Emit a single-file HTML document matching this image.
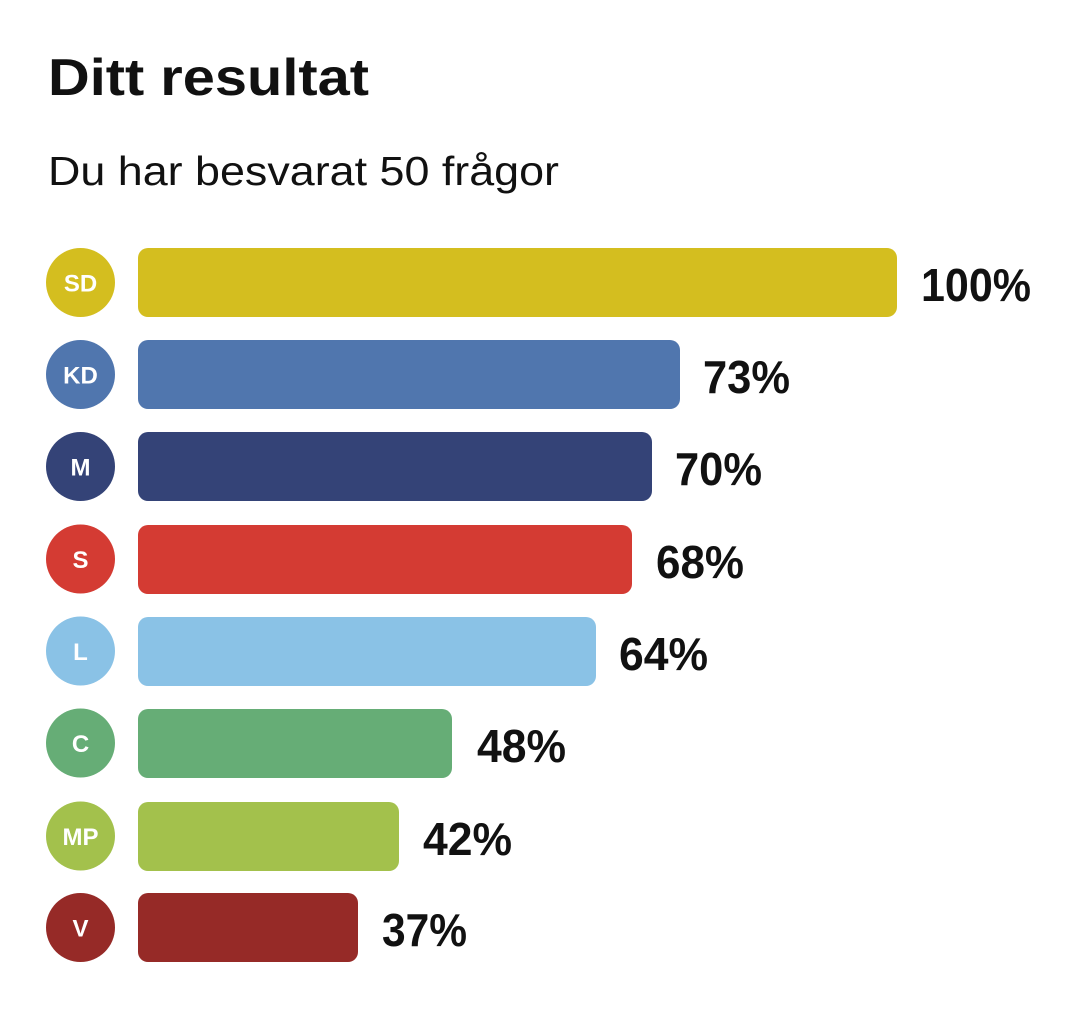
<!DOCTYPE html>
<html>
<head>
<meta charset="utf-8">
<style>
  html,body{margin:0;padding:0;background:#fff;}
  svg{display:block;}
  .t{font-family:"Liberation Sans",Arial,sans-serif;}
</style>
</head>
<body>
<svg width="1080" height="1014" viewBox="0 0 1080 1014" xmlns="http://www.w3.org/2000/svg">
  <rect width="1080" height="1014" fill="#ffffff"/>
  <text class="t" x="48" y="95" font-size="52" font-weight="bold" fill="#111" textLength="321" lengthAdjust="spacingAndGlyphs">Ditt resultat</text>
  <text class="t" x="48" y="185" font-size="41" fill="#111" textLength="511" lengthAdjust="spacingAndGlyphs">Du har besvarat 50 frågor</text>

  <!-- SD -->
  <circle cx="80.5" cy="282.5" r="34.5" fill="#d4be1f"/>
  <text class="t" x="80.5" y="291.5" font-size="24" font-weight="bold" fill="#fff" text-anchor="middle">SD</text>
  <rect x="138" y="248" width="759" height="69" rx="10" fill="#d4be1f"/>
  <text class="t" x="921" y="301" font-size="46" font-weight="bold" fill="#111" textLength="110" lengthAdjust="spacingAndGlyphs">100%</text>

  <!-- KD -->
  <circle cx="80.5" cy="374.5" r="34.5" fill="#5076ae"/>
  <text class="t" x="80.5" y="383.5" font-size="24" font-weight="bold" fill="#fff" text-anchor="middle">KD</text>
  <rect x="138" y="340" width="542" height="69" rx="10" fill="#5076ae"/>
  <text class="t" x="703" y="393" font-size="46" font-weight="bold" fill="#111" textLength="87" lengthAdjust="spacingAndGlyphs">73%</text>

  <!-- M -->
  <circle cx="80.5" cy="466.5" r="34.5" fill="#344377"/>
  <text class="t" x="80.5" y="475.5" font-size="24" font-weight="bold" fill="#fff" text-anchor="middle">M</text>
  <rect x="138" y="432" width="514" height="69" rx="10" fill="#344377"/>
  <text class="t" x="675" y="485" font-size="46" font-weight="bold" fill="#111" textLength="87" lengthAdjust="spacingAndGlyphs">70%</text>

  <!-- S -->
  <circle cx="80.5" cy="559" r="34.5" fill="#d43b33"/>
  <text class="t" x="80.5" y="568" font-size="24" font-weight="bold" fill="#fff" text-anchor="middle">S</text>
  <rect x="138" y="525" width="494" height="69" rx="10" fill="#d43b33"/>
  <text class="t" x="656" y="578" font-size="46" font-weight="bold" fill="#111" textLength="88" lengthAdjust="spacingAndGlyphs">68%</text>

  <!-- L -->
  <circle cx="80.5" cy="651" r="34.5" fill="#8ac2e6"/>
  <text class="t" x="80.5" y="660" font-size="24" font-weight="bold" fill="#fff" text-anchor="middle">L</text>
  <rect x="138" y="617" width="458" height="69" rx="10" fill="#8ac2e6"/>
  <text class="t" x="619" y="670" font-size="46" font-weight="bold" fill="#111" textLength="89" lengthAdjust="spacingAndGlyphs">64%</text>

  <!-- C -->
  <circle cx="80.5" cy="743" r="34.5" fill="#66ad76"/>
  <text class="t" x="80.5" y="752" font-size="24" font-weight="bold" fill="#fff" text-anchor="middle">C</text>
  <rect x="138" y="709" width="314" height="69" rx="10" fill="#66ad76"/>
  <text class="t" x="477" y="762" font-size="46" font-weight="bold" fill="#111" textLength="89" lengthAdjust="spacingAndGlyphs">48%</text>

  <!-- MP -->
  <circle cx="80.5" cy="836" r="34.5" fill="#a3c14c"/>
  <text class="t" x="80.5" y="845" font-size="24" font-weight="bold" fill="#fff" text-anchor="middle">MP</text>
  <rect x="138" y="802" width="261" height="69" rx="10" fill="#a3c14c"/>
  <text class="t" x="423" y="855" font-size="46" font-weight="bold" fill="#111" textLength="89" lengthAdjust="spacingAndGlyphs">42%</text>

  <!-- V -->
  <circle cx="80.5" cy="927.5" r="34.5" fill="#962a27"/>
  <text class="t" x="80.5" y="936.5" font-size="24" font-weight="bold" fill="#fff" text-anchor="middle">V</text>
  <rect x="138" y="893" width="220" height="69" rx="10" fill="#962a27"/>
  <text class="t" x="382" y="946" font-size="46" font-weight="bold" fill="#111" textLength="85" lengthAdjust="spacingAndGlyphs">37%</text>
</svg>
</body>
</html>
